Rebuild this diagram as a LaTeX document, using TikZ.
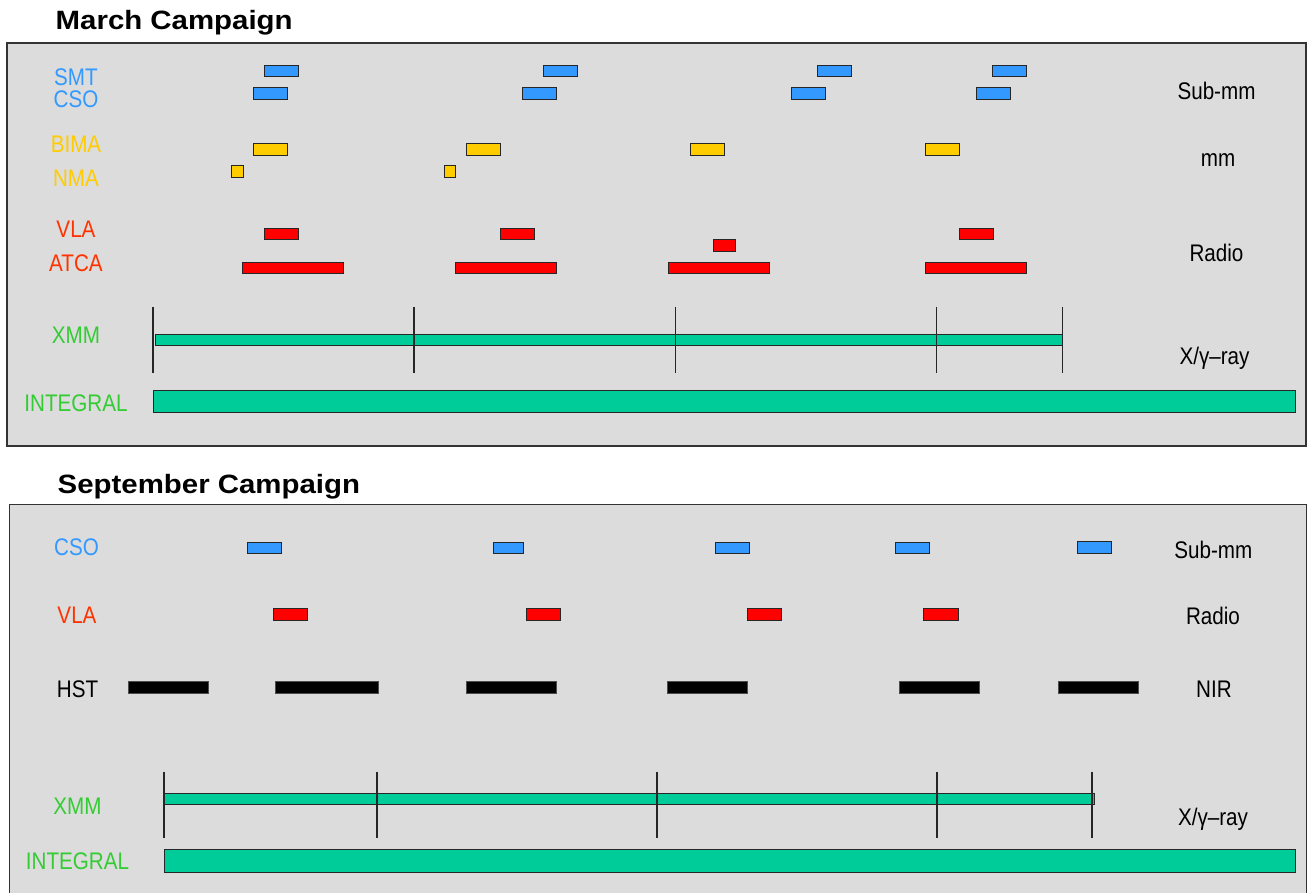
\documentclass[tikz,border=0pt]{standalone}
\usepackage{fontspec}
\setmainfont{Liberation Sans}
\definecolor{bg}{HTML}{DCDCDC}
\definecolor{frame}{HTML}{333333}
\definecolor{cblue}{HTML}{3399FF}
\definecolor{cyellow}{HTML}{FFCC00}
\definecolor{cred}{HTML}{FF0000}
\definecolor{clabred}{HTML}{FF3300}
\definecolor{cgreen}{HTML}{33CC33}
\definecolor{cteal}{HTML}{00CC99}
\newcommand\obs[5]{\draw[#1] (#2,#3) rectangle (#4,#5);}
\newcommand\lab[1]{\scalebox{0.86}[1]{#1}}
\newcommand\ttl[1]{\scalebox{1.11}[1]{#1}}
\tikzset{
  panel/.style={fill=bg, draw=frame, line width=1.4pt},
  barbase/.style={draw=black!85, line width=1pt},
  bluebar/.style={barbase, fill=cblue},
  yellowbar/.style={barbase, fill=cyellow},
  redbar/.style={barbase, fill=cred},
  tealbar/.style={barbase, fill=cteal},
  blackbar/.style={draw=black!70, line width=0.6pt, fill=black},
  tick/.style={draw=black!85, line width=1.2pt},
  lbl/.style={anchor=base, inner sep=0pt, font=\fontsize{24}{28}\selectfont},
  title/.style={anchor=base west, inner sep=0pt, font=\fontsize{26.5}{30}\selectfont\bfseries},
}
\begin{document}
\begin{tikzpicture}[x=1pt, y=-1pt]
\useasboundingbox (0,0) rectangle (1309,893);
\begin{scope}
\clip (0,0) rectangle (1309,893);
% ---------- March ----------
\node[title] (tmarch) at (55.5,30) {\ttl{March Campaign}};
\draw[panel] (7,43) rectangle (1306,446);
% left labels
\node[lbl, text=cblue] (msmt) at (76,85.8) {\lab{SMT}};
\node[lbl, text=cblue] (mcso) at (76,107.8) {\lab{CSO}};
\node[lbl, text=cyellow] (mbima) at (76,152.8) {\lab{BIMA}};
\node[lbl, text=cyellow] (mnma) at (76,186.9) {\lab{NMA}};
\node[lbl, text=clabred] (mvla) at (76,237.3) {\lab{VLA}};
\node[lbl, text=clabred] (matca) at (76,271.1) {\lab{ATCA}};
\node[lbl, text=cgreen] (mxmm) at (76,343.8) {\lab{XMM}};
\node[lbl, text=cgreen] (mint) at (76,411.3) {\lab{INTEGRAL}};
% right labels
\node[lbl] (msub) at (1216.5,99.4) {\lab{Sub-mm}};
\node[lbl] (mmm) at (1218,166.7) {\lab{mm}};
\node[lbl] (mradio) at (1216.5,261.1) {\lab{Radio}};
\node[lbl] (mxray) at (1214.5,364.4) {\lab{X/γ–ray}};
% SMT
\obs{bluebar}{264.3}{65.3}{298.3}{76.7}
\obs{bluebar}{543.3}{65.3}{577.7}{76.7}
\obs{bluebar}{817.3}{65.3}{851.7}{76.7}
\obs{bluebar}{992.7}{65.3}{1026.7}{76.7}
% CSO
\obs{bluebar}{253.7}{87.7}{287.7}{99.3}
\obs{bluebar}{522.3}{87.7}{556.7}{99.3}
\obs{bluebar}{791}{87.7}{825}{99.3}
\obs{bluebar}{976.7}{87.7}{1010.7}{99.3}
% BIMA
\obs{yellowbar}{253.7}{143.7}{287.7}{155.3}
\obs{yellowbar}{466.3}{143.7}{500.3}{155.3}
\obs{yellowbar}{690.3}{143.7}{724.3}{155.3}
\obs{yellowbar}{925.3}{143.7}{959.3}{155.3}
% NMA
\obs{yellowbar}{231.3}{166}{243}{177.7}
\obs{yellowbar}{444}{166}{455.7}{177.7}
% VLA
\obs{redbar}{264.7}{228.3}{298.7}{240}
\obs{redbar}{500}{228.3}{534}{240}
\obs{redbar}{713}{239.7}{735.3}{251.3}
\obs{redbar}{959}{228.3}{993}{240}
% ATCA
\obs{redbar}{242.3}{262.3}{343.7}{273.7}
\obs{redbar}{455.3}{262.3}{556.3}{273.7}
\obs{redbar}{668}{262.3}{769}{273.7}
\obs{redbar}{925.3}{262.3}{1026.7}{273.7}
% XMM
\obs{tealbar}{155.3}{334.3}{1062.7}{345.7}
\foreach \t/\n in {153/ma,414/mb,675.7/mc,936.7/md,1062.7/me}{
  \coordinate (tick\n top) at (\t,307);
  \coordinate (tick\n bot) at (\t,373);
  \draw[tick] (tick\n top) -- (tick\n bot);
}
% INTEGRAL
\obs{tealbar}{153}{390}{1295.3}{412.7}
% ---------- September ----------
\node[title] (tsept) at (57.5,493.3) {\ttl{September Campaign}};
\draw[panel] (9.3,504.3) rectangle (1306.7,905);
\node[lbl, text=cblue] (scso) at (76.5,555.9) {\lab{CSO}};
\node[lbl, text=clabred] (svla) at (77,623.4) {\lab{VLA}};
\node[lbl] (shst) at (77.5,697.9) {\lab{HST}};
\node[lbl, text=cgreen] (sxmm) at (77.5,814.6) {\lab{XMM}};
\node[lbl, text=cgreen] (sint) at (77.5,869.9) {\lab{INTEGRAL}};
\node[lbl] (ssub) at (1213.3,558.6) {\lab{Sub-mm}};
\node[lbl] (sradio) at (1213,624.4) {\lab{Radio}};
\node[lbl] (snir) at (1214,697.8) {\lab{NIR}};
\node[lbl] (sxray) at (1213,825.3) {\lab{X/γ–ray}};
% CSO
\obs{bluebar}{247}{542}{281}{553.3}
\obs{bluebar}{493.8}{542}{523.2}{553.3}
\obs{bluebar}{715.3}{542}{749.7}{553.3}
\obs{bluebar}{895.3}{542}{929.7}{553.3}
\obs{bluebar}{1077.3}{541.5}{1111.3}{553.3}
% VLA
\obs{redbar}{273.3}{608.3}{307.8}{620}
\obs{redbar}{526.3}{608.3}{560.3}{620}
\obs{redbar}{747.3}{608.3}{781.7}{620}
\obs{redbar}{923.7}{608.3}{958}{620}
% HST
\obs{blackbar}{128.7}{681.3}{208.3}{693.7}
\obs{blackbar}{275.6}{681.3}{377.8}{693.7}
\obs{blackbar}{465.8}{681.3}{556.5}{693.7}
\obs{blackbar}{667.3}{681.3}{747}{693.7}
\obs{blackbar}{899.7}{681.3}{979.3}{693.7}
\obs{blackbar}{1058.7}{681.3}{1138.7}{693.7}
% XMM
\obs{tealbar}{164}{793.3}{1094}{804.3}
\foreach \t/\n in {164/sa,377/sb,657/sc,937/sd,1092/se}{
  \coordinate (tick\n top) at (\t,771.7);
  \coordinate (tick\n bot) at (\t,837.7);
  \draw[tick] (tick\n top) -- (tick\n bot);
}
% INTEGRAL
\obs{tealbar}{164}{849}{1295.3}{872.3}
\end{scope}
\end{tikzpicture}
\end{document}
